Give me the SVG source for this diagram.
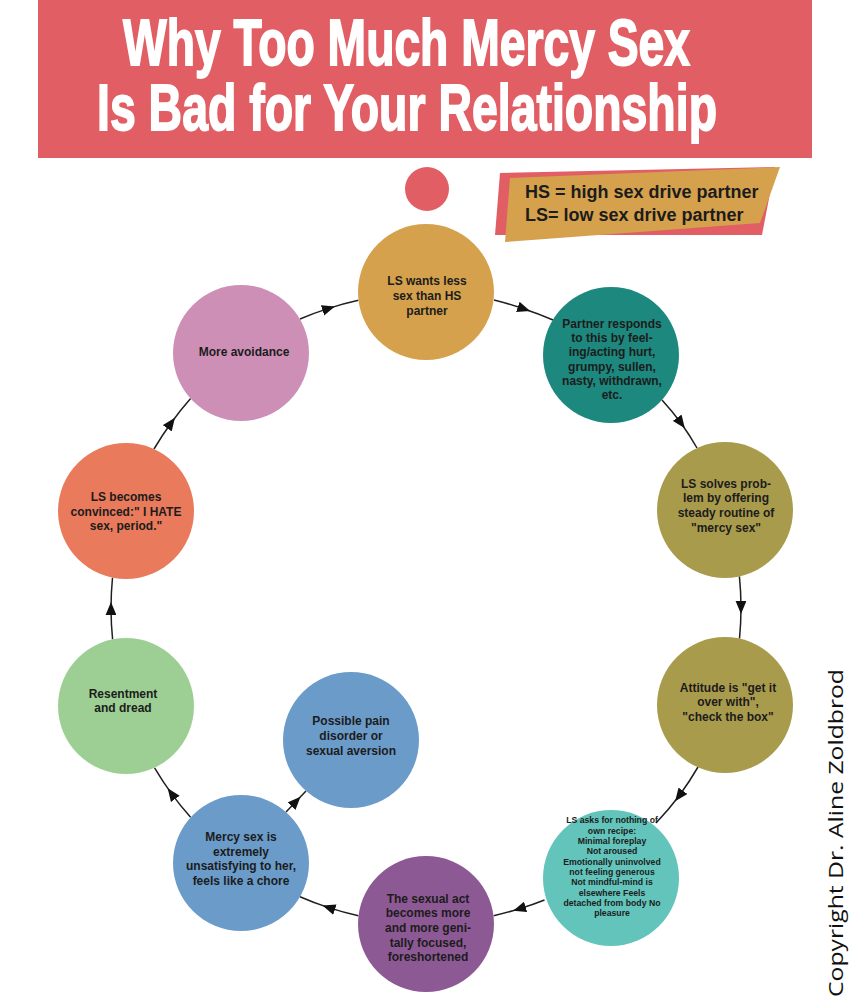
<svg xmlns="http://www.w3.org/2000/svg" width="850" height="1000" viewBox="0 0 850 1000">
<style>
.title{font-family:"Liberation Sans",Arial,sans-serif;font-weight:bold;font-size:65px;fill:#ffffff;stroke:#ffffff;stroke-width:1.8}
.legend{font-family:"Liberation Sans",Arial,sans-serif;font-weight:bold;font-size:18px;fill:#1c1c1c}
.lbl{font-family:"Liberation Sans",Arial,sans-serif;font-weight:bold;font-size:12px;fill:#1c1c1c;text-anchor:middle}
.small{font-family:"Liberation Sans",Arial,sans-serif;font-weight:bold;font-size:8.7px;fill:#1c1c1c;text-anchor:middle}
.conn{fill:none;stroke:#1f1f1f;stroke-width:1.5;marker-mid:url(#arr)}
.copy{font-family:"Open Sans","Noto Sans",sans-serif;font-size:20px;fill:#111111}
</style>
<defs>
<marker id="arr" viewBox="0 0 12 10" refX="6" refY="5" markerWidth="13" markerHeight="11" markerUnits="userSpaceOnUse" orient="auto">
<path d="M0,0 L12,5 L0,10 z" fill="#111111"/>
</marker>
</defs>
<rect width="850" height="1000" fill="#ffffff"/>
<g id="banner">
<rect x="38" y="0" width="774" height="158" fill="#E15F64"/>
<text class="title" x="123" y="65" textLength="567" lengthAdjust="spacingAndGlyphs">Why Too Much Mercy Sex</text>
<text class="title" x="97" y="130" textLength="620" lengthAdjust="spacingAndGlyphs">Is Bad for Your Relationship</text>
</g>
<circle id="dot" cx="427" cy="189" r="22" fill="#E15F64"/>
<g id="legend">
<polygon points="500,173 775,167 762,235 495,235" fill="#E15F64"/>
<polygon points="510,178 780,167 760,223 505,242" fill="#D5A14C"/>
<text class="legend" x="525" y="198">HS = high sex drive partner</text>
<text class="legend" x="525" y="221">LS= low sex drive partner</text>
</g>
<g id="connectors">
<path class="conn" d="M494,300 A315,315 0 0 1 524,309 A315,315 0 0 1 553,320"/>
<path class="conn" d="M662,400 A315,315 0 0 1 681,423 A315,315 0 0 1 697,448"/>
<path class="conn" d="M739.4,576.4 A315,315 0 0 1 741,607.5 A315,315 0 0 1 739.5,638.6"/>
<path class="conn" d="M698,767 A315,315 0 0 1 679,796 A315,315 0 0 1 656,823"/>
<path class="conn" d="M544.5,900 A315,315 0 0 1 519.4,908.8 A315,315 0 0 1 493.6,915.7"/>
<path class="conn" d="M358.4,915.7 A315,315 0 0 1 328.7,907.6 A315,315 0 0 1 300,896.7"/>
<path class="conn" d="M190.6,817.3 A315,315 0 0 1 171.5,793.6 A315,315 0 0 1 154.6,767.9"/>
<path class="conn" d="M112.6,639.3 A315,315 0 0 1 111,608.5 A315,315 0 0 1 112.5,577.8"/>
<path class="conn" d="M154,449 A315,315 0 0 1 171.1,423 A315,315 0 0 1 190.6,398.6"/>
<path class="conn" d="M300,319 A315,315 0 0 1 328.7,308.4 A315,315 0 0 1 358.4,300.3"/>
<path class="conn" d="M286,812 L296,801.5 L306,791"/>
</g>
<g id="n1">
<circle cx="426" cy="292" r="68" fill="#D5A14C"/>
<text class="lbl" x="427" y="285.3">LS wants less</text>
<text class="lbl" x="427" y="300">sex than HS</text>
<text class="lbl" x="427" y="315">partner</text>
</g>
<g id="n2">
<circle cx="611" cy="355" r="68" fill="#1D887D"/>
<text class="lbl" x="612" y="327.6">Partner responds</text>
<text class="lbl" x="612" y="341.9">to this by feel-</text>
<text class="lbl" x="612" y="356.2">ing/acting hurt,</text>
<text class="lbl" x="612" y="370.5">grumpy, sullen,</text>
<text class="lbl" x="612" y="384.8">nasty, withdrawn,</text>
<text class="lbl" x="612" y="399.1">etc.</text>
</g>
<g id="n3">
<circle cx="725" cy="510" r="68" fill="#A99B4C"/>
<text class="lbl" x="726" y="487.6">LS solves prob-</text>
<text class="lbl" x="726" y="502.4">lem by offering</text>
<text class="lbl" x="726" y="517.2">steady routine of</text>
<text class="lbl" x="726" y="532">"mercy sex"</text>
</g>
<g id="n4">
<circle cx="725" cy="705" r="68" fill="#A99B4C"/>
<text class="lbl" x="728" y="691.6">Attitude is "get it</text>
<text class="lbl" x="728" y="706.4">over with",</text>
<text class="lbl" x="728" y="721.2">"check the box"</text>
</g>
<g id="n5">
<circle cx="611" cy="878" r="68" fill="#62C4BA"/>
<text class="small" x="612" y="823.1">LS asks for nothing of</text>
<text class="small" x="612" y="833.5">own recipe:</text>
<text class="small" x="612" y="843.8">Minimal foreplay</text>
<text class="small" x="612" y="854.2">Not aroused</text>
<text class="small" x="612" y="864.5">Emotionally uninvolved</text>
<text class="small" x="612" y="874.9">not feeling generous</text>
<text class="small" x="612" y="885.3">Not mindful-mind is</text>
<text class="small" x="612" y="895.6">elsewhere Feels</text>
<text class="small" x="612" y="906">detached from body No</text>
<text class="small" x="612" y="916.3">pleasure</text>
</g>
<g id="n6">
<circle cx="426" cy="924" r="68" fill="#8D5995"/>
<text class="lbl" x="428" y="902.6">The sexual act</text>
<text class="lbl" x="428" y="917.3">becomes more</text>
<text class="lbl" x="428" y="932">and more geni-</text>
<text class="lbl" x="428" y="946.7">tally focused,</text>
<text class="lbl" x="428" y="961.4">foreshortened</text>
</g>
<g id="n7">
<circle cx="241" cy="863" r="68" fill="#6A9BC9"/>
<text class="lbl" x="241" y="841">Mercy sex is</text>
<text class="lbl" x="241" y="855.7">extremely</text>
<text class="lbl" x="241" y="870.4">unsatisfying to her,</text>
<text class="lbl" x="241" y="885.1">feels like a chore</text>
</g>
<g id="n8">
<circle cx="351" cy="740" r="68" fill="#6A9BC9"/>
<text class="lbl" x="351" y="725.3">Possible pain</text>
<text class="lbl" x="351" y="740.1">disorder or</text>
<text class="lbl" x="351" y="754.9">sexual aversion</text>
</g>
<g id="n9">
<circle cx="126" cy="706" r="68" fill="#9DCF94"/>
<text class="lbl" x="123" y="697.6">Resentment</text>
<text class="lbl" x="123" y="711.8">and dread</text>
</g>
<g id="n10">
<circle cx="126" cy="511" r="68" fill="#E97A5B"/>
<text class="lbl" x="126" y="501">LS becomes</text>
<text class="lbl" x="126" y="515.5">convinced:" I HATE</text>
<text class="lbl" x="126" y="530">sex, period."</text>
</g>
<g id="n11">
<circle cx="241" cy="353" r="68" fill="#CE8FB6"/>
<text class="lbl" x="244" y="356">More avoidance</text>
</g>
<text class="copy" transform="translate(843,997) rotate(-90)" x="0" y="0" textLength="328" lengthAdjust="spacingAndGlyphs">Copyright Dr. Aline Zoldbrod</text>
</svg>
